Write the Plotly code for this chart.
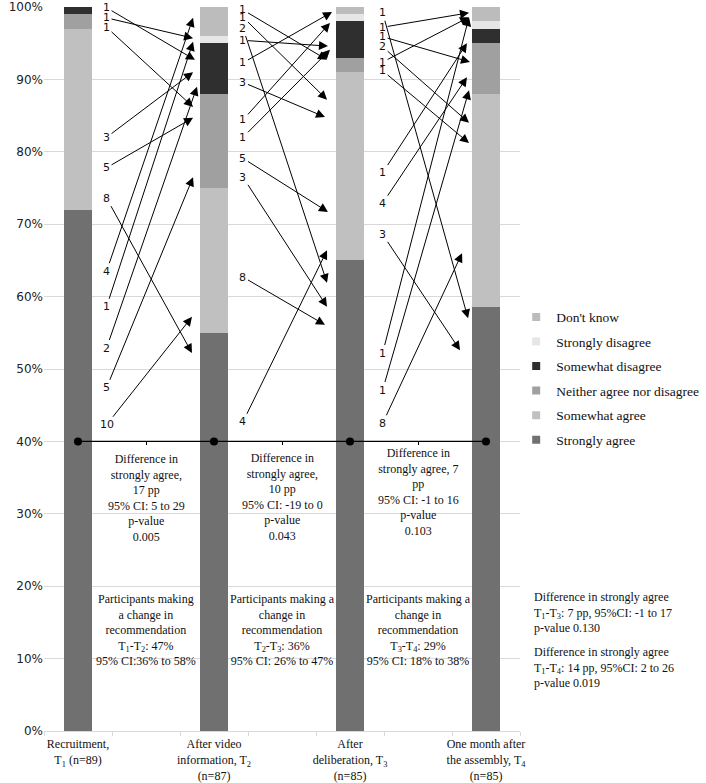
import plotly.graph_objects as go

# ---------------- data ----------------
time_points = [
    "Recruitment,<br>T<sub>1</sub> (n=89)",
    "After video<br>information, T<sub>2</sub><br>(n=87)",
    "After<br>deliberation, T<sub>3</sub><br>(n=85)",
    "One month after<br>the assembly, T<sub>4</sub><br>(n=85)",
]
x_pos = [0, 1, 2, 3]

strongly_agree = [72, 55, 65, 58.5]
somewhat_agree = [25, 20, 26, 29.5]
neither = [2, 13, 2, 7]
somewhat_disagree = [1, 7, 5, 2]
strongly_disagree = [0, 1, 1, 1]
dont_know = [0, 4, 1, 2]

series_names = ["Strongly agree", "Somewhat agree", "Neither agree nor disagree",
                "Somewhat disagree", "Strongly disagree", "Don't know"]
series_values = [strongly_agree, somewhat_agree, neither,
                 somewhat_disagree, strongly_disagree, dont_know]
series_colors = ["#707070", "#c0c0c0", "#a0a0a0", "#2f2f2f", "#e6e6e6", "#bcbcbc"]

y_ticks = list(range(0, 101, 10))
y_tick_labels = [f"{v}%" for v in y_ticks]

difference_line = [40, 40, 40, 40]

# transitions between time points: count labels, label height (%), arrow tip (x, %)
gap1_counts = [1, 1, 1, 3, 5, 8, 4, 1, 2, 5, 10]
gap1_label_y = [99.9, 98.5, 97.2, 82.0, 77.8, 73.6, 63.5, 58.6, 52.9, 47.4, 42.3]
gap1_tip_x = [0.86, 0.846, 0.846, 0.846, 0.846, 0.838, 0.846, 0.846, 0.875, 0.846, 0.838]
gap1_tip_y = [92.7, 95.7, 86.2, 91.0, 84.7, 52.2, 98.5, 95.2, 89.0, 76.5, 57.2]

gap2_counts = [1, 1, 2, 1, 1, 3, 1, 1, 5, 3, 8, 4]
gap2_label_y = [99.6, 98.6, 97.1, 95.4, 92.3, 89.6, 84.4, 82.0, 79.1, 76.5, 62.7, 42.7]
gap2_tip_x = [1.831, 1.831, 1.831, 1.838, 1.868, 1.816, 1.853, 1.853, 1.838, 1.831, 1.816, 1.831]
gap2_tip_y = [92.7, 87.2, 61.9, 94.6, 99.3, 84.8, 97.8, 94.1, 71.7, 58.6, 56.1, 66.4]

gap3_counts = [1, 1, 1, 2, 1, 1, 1, 4, 3, 1, 1, 8]
gap3_label_y = [99.2, 97.2, 95.9, 94.5, 92.4, 91.2, 77.1, 72.9, 68.6, 52.2, 47.1, 42.5]
gap3_tip_x = [2.868, 2.875, 2.882, 2.875, 2.875, 2.875, 2.86, 2.86, 2.809, 2.875, 2.875, 2.824]
gap3_tip_y = [57.0, 99.2, 92.4, 84.0, 98.6, 81.2, 95.0, 90.3, 52.6, 98.6, 88.5, 66.0]

gaps = [
    (0.21, gap1_counts, gap1_label_y, gap1_tip_x, gap1_tip_y),
    (1.213, gap2_counts, gap2_label_y, gap2_tip_x, gap2_tip_y),
    (2.24, gap3_counts, gap3_label_y, gap3_tip_x, gap3_tip_y),
]

diff_texts = [
    "Difference in<br>strongly agree,<br>17 pp<br>95% CI: 5 to 29<br>p-value<br>0.005",
    "Difference in<br>strongly agree,<br>10 pp<br>95% CI: -19 to 0<br>p-value<br>0.043",
    "Difference in<br>strongly agree, 7<br>pp<br>95% CI: -1 to 16<br>p-value<br>0.103",
]
diff_text_y = [32.2, 32.3, 33.0]
change_texts = [
    "Participants making<br>a change in<br>recommendation<br>T<sub>1</sub>-T<sub>2</sub>: 47%<br>95% CI:36% to 58%",
    "Participants making a<br>change in<br>recommendation<br>T<sub>2</sub>-T<sub>3</sub>: 36%<br>95% CI: 26% to 47%",
    "Participants making a<br>change in<br>recommendation<br>T<sub>3</sub>-T<sub>4</sub>: 29%<br>95% CI: 18% to 38%",
]
side_texts = [
    "Difference in strongly agree<br>T<sub>1</sub>-T<sub>3</sub>: 7 pp, 95%CI: -1 to 17<br>p-value 0.130",
    "Difference in strongly agree<br>T<sub>1</sub>-T<sub>4</sub>: 14 pp, 95%CI: 2 to 26<br>p-value 0.019",
]

SERIF = "Liberation Serif"
SANS = "DejaVu Sans"

fig = go.Figure()
for name, vals, col in zip(series_names, series_values, series_colors):
    fig.add_trace(go.Bar(
        x=x_pos, y=vals, name=name, marker=dict(color=col, line=dict(width=0)),
        width=0.2, showlegend=False,
    ))

# legend entries with small square swatches
for rank, (name, col) in enumerate(zip(series_names, series_colors)):
    fig.add_trace(go.Scatter(
        x=[None], y=[None], mode="markers", name=name,
        marker=dict(symbol="square", size=8, color=col),
        legendgroup=name, legendrank=100 - rank, showlegend=True, hoverinfo="skip",
    ))

fig.add_trace(go.Scatter(
    x=x_pos, y=difference_line, mode="lines+markers", xaxis="x2",
    line=dict(color="black", width=1.3), marker=dict(color="black", size=8),
    showlegend=False, hoverinfo="skip",
))

annotations = []
for label_x, counts, ly, tx, ty in gaps:
    for c, y0, x1, y1 in zip(counts, ly, tx, ty):
        annotations.append(dict(
            x=x1, y=y1, ax=label_x, ay=y0, xref="x", yref="y", axref="x", ayref="y",
            text=str(c), showarrow=True, arrowhead=2, arrowsize=1.8, arrowwidth=1,
            arrowcolor="black", font=dict(family=SANS, size=11, color="#111"),
            borderpad=1,
        ))

for i, t in enumerate(diff_texts):
    annotations.append(dict(
        x=i + 0.5, y=diff_text_y[i], xref="x", yref="y", text=t, showarrow=False,
        font=dict(family=SERIF, size=12, color="#111"), align="center",
        xanchor="center", yanchor="middle",
    ))
for i, t in enumerate(change_texts):
    annotations.append(dict(
        x=i + 0.5, y=13.9, xref="x", yref="y", text=t, showarrow=False,
        font=dict(family=SERIF, size=12, color="#111"), align="center",
        xanchor="center", yanchor="middle",
    ))
for t, yy in zip(side_texts, [16.4, 8.8]):
    annotations.append(dict(
        x=1.025, y=yy, xref="paper", yref="y", text=t, showarrow=False,
        font=dict(family=SERIF, size=12, color="#111"), align="left",
        xanchor="left", yanchor="middle",
    ))

fig.update_layout(
    width=706, height=783,
    margin=dict(l=44, r=186, t=7, b=52, autoexpand=False),
    paper_bgcolor="white", plot_bgcolor="white",
    barmode="stack", bargap=0,
    showlegend=True,
    legend=dict(
        x=0.992, y=0.593, xanchor="left", yanchor="top",
        traceorder="grouped", tracegroupgap=4,
        font=dict(family=SERIF, size=13.5, color="#111"),
        itemwidth=30, bgcolor="rgba(0,0,0,0)",
    ),
    xaxis=dict(
        range=[-0.25, 3.25], tickvals=x_pos, ticktext=time_points,
        ticks="", showgrid=False, zeroline=False, automargin=False,
        showline=True, linecolor="#d9d9d9", linewidth=1, ticklabelstandoff=2,
        tickfont=dict(family=SERIF, size=12, color="#111"),
        minor=dict(tickmode="array", tickvals=[-0.25, 0.25, 0.75, 1.25, 1.75, 2.25, 2.75, 3.25],
                   ticks="outside", ticklen=4, tickcolor="#d9d9d9", showgrid=False),
    ),
    xaxis2=dict(
        range=[-0.25, 3.25], overlaying="x", anchor="free", position=0.4, side="bottom",
        tickvals=[0.5, 1.5, 2.5], ticks="outside", ticklen=3, tickcolor="black",
        showticklabels=False, showgrid=False, zeroline=False, showline=False,
        automargin=False,
    ),
    yaxis=dict(
        range=[0, 100], tickvals=y_ticks, ticktext=y_tick_labels,
        showgrid=True, gridcolor="#d9d9d9", gridwidth=1, zeroline=False,
        showline=False, ticks="", automargin=False,
        tickfont=dict(family=SANS, size=12, color="#222"),
    ),
    annotations=annotations,
)

fig.write_html(
    "out.html",
    config={"displayModeBar": False},
    post_script="document.body.style.margin='0';document.body.style.overflow='hidden';",
)
